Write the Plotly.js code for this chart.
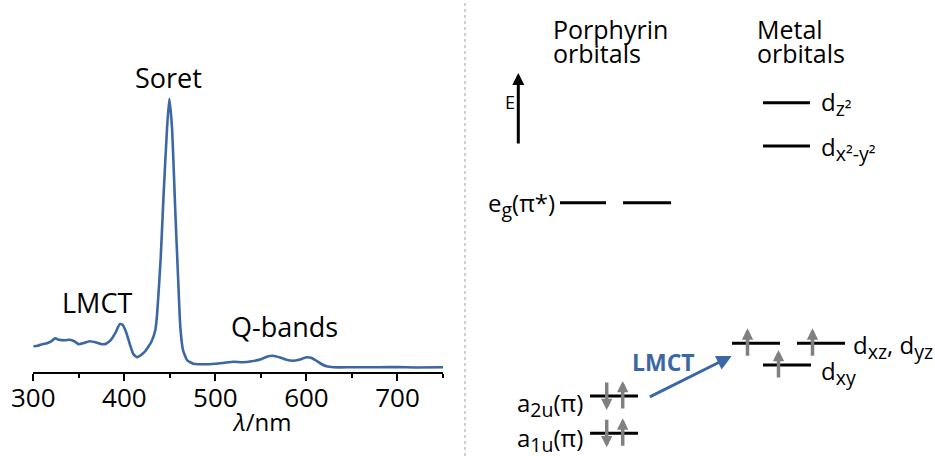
<!DOCTYPE html>
<html>
<head>
<meta charset="utf-8">
<script src="https://cdn.plot.ly/plotly-3.0.1.min.js"></script>
<style>html,body{margin:0;padding:0;background:#fff;}#chart{width:935px;height:456px;}</style>
</head>
<body>
<div id="chart"></div>
<script>
// ---- UV-vis spectrum ----
const wavelength = [300,305,310,315,320,324,328,335,340,345,350,355,362,370,375,380,385,390,395,398,402,406,410,414,418,422,426,430,434,436,440,443,447,449.4,452.3,456,459,461.5,464.5,469,476,485,500,510,520,530,540,550,558,563,570,578,585,592,600,605,610,616,622,630,650,680,700,720,750];
const absorbance = [0.26,0.265,0.28,0.29,0.31,0.34,0.325,0.32,0.325,0.31,0.28,0.29,0.31,0.295,0.28,0.285,0.32,0.39,0.48,0.475,0.40,0.28,0.18,0.15,0.17,0.20,0.25,0.31,0.42,0.58,1.15,1.75,2.45,2.73,2.45,1.60,0.95,0.45,0.22,0.12,0.085,0.08,0.085,0.095,0.105,0.10,0.11,0.13,0.16,0.165,0.15,0.125,0.115,0.125,0.15,0.145,0.12,0.085,0.06,0.05,0.05,0.05,0.052,0.048,0.05];
const xTickVals = [300,400,500,600,700];
const xAxisTitle = '<i>λ</i>/nm';
const bandLabels = ['LMCT','Soret','Q-bands'];
const bandLabelX = [370,448.3,576];

// ---- orbital energy diagram (energy axis runs downward on screen) ----
const orbitalBase = ['d','d','e','','','d','d','a','a'];
const orbitalSub = ['z²','x²-y²','g','','','xz','xy','2u','1u'];
const orbitalSuffix = ['','','(π*)','','',', d<sub>{yz}</sub>','','(π)','(π)'];
const orbitalEnergy = [102.7,146,202.7,202.7,343.3,343.3,365,396,433.3];
const orbitalX0 = [763,763,560,623,732,797,763,590,590];
const orbitalX1 = [810,810,606,671,780,845,811,638,638];
const electronsUp = [0,0,0,0,1,1,1,1,1];
const electronsDown = [0,0,0,0,0,0,0,1,1];
const columnHeaders = [['Porphyrin','orbitals'],['Metal','orbitals']];

const FONT = 'Open Sans, sans-serif';
const BLUE = '#3b67a4';
const GREY = '#808080';
const sub = s => '<sub><span style="font-size:19.5px">' + s + '</span></sub>';

// level segments
const lx = [], ly = [];
for (let i = 0; i < orbitalEnergy.length; i++) {
  lx.push(orbitalX0[i], orbitalX1[i], null);
  ly.push(orbitalEnergy[i], orbitalEnergy[i], null);
}

const traces = [
  {x: wavelength, y: absorbance, type: 'scatter', mode: 'lines',
   line: {color: BLUE, width: 2.6, shape: 'spline', smoothing: 0.5},
   xaxis: 'x', yaxis: 'y', hoverinfo: 'skip'},
  {x: lx, y: ly, type: 'scatter', mode: 'lines',
   line: {color: '#000', width: 3}, xaxis: 'x2', yaxis: 'y2', hoverinfo: 'skip'}
];

const ann = [];
// band labels (x in nm, vertical place in paper units)
const bandLabelPaperY = [0.3807, 0.874, 0.3287];
for (let i = 0; i < bandLabels.length; i++) {
  ann.push({text: bandLabels[i], x: bandLabelX[i], y: bandLabelPaperY[i], xref: 'x', yref: 'paper',
    xanchor: 'center', yanchor: 'top', showarrow: false, font: {family: FONT, size: 27, color: '#000'}});
}
// x-axis title
ann.push({text: xAxisTitle, x: 550.5, y: 0.116, xref: 'x', yref: 'paper', xanchor: 'center', yanchor: 'top',
  showarrow: false, font: {family: FONT, size: 24, color: '#000'}});
// column headers
const headerX = [551, 755];
const headerY = [[9.5, 33.5],[9.5, 33.5]];
for (let c = 0; c < 2; c++) for (let r = 0; r < 2; r++) {
  ann.push({text: columnHeaders[c][r], x: headerX[c], y: headerY[c][r], xref: 'x2', yref: 'y2',
    xanchor: 'left', yanchor: 'top', showarrow: false, font: {family: FONT, size: 25, color: '#000'}});
}
// orbital labels
const labelPos = [
  {x: 819, xa: 'left'}, {x: 819, xa: 'left'}, {x: 557, xa: 'right'}, null, null,
  {x: 851, xa: 'left'}, {x: 819, xa: 'left'}, {x: 585, xa: 'right'}, {x: 585, xa: 'right'}
];
const labelDy = [-19.6, -18.3, -19.2, 0, 0, -17.7, -12.7, -12.5, -14.8];
for (let i = 0; i < orbitalBase.length; i++) {
  if (!orbitalBase[i]) continue;
  const suffix = orbitalSuffix[i].replace(/<sub>\{(.*?)\}<\/sub>/g, (m, s) => sub(s));
  const txt = orbitalBase[i] + sub(orbitalSub[i]) + suffix;
  ann.push({text: txt, x: labelPos[i].x, y: orbitalEnergy[i] + labelDy[i], xref: 'x2', yref: 'y2',
    xanchor: labelPos[i].xa, yanchor: 'top', showarrow: false, font: {family: FONT, size: 24, color: '#000'}});
}
// electrons
for (let i = 0; i < orbitalEnergy.length; i++) {
  const e = orbitalEnergy[i];
  const arrows = [];
  if (electronsDown[i]) { arrows.push({x: orbitalX0[i] + 16.7, up: false}); arrows.push({x: orbitalX0[i] + 32.7, up: true}); }
  else if (electronsUp[i]) { arrows.push({x: orbitalX0[i] + 15.5, up: true}); }
  arrows.forEach(a => {
    ann.push({text: '', xref: 'x2', yref: 'y2', axref: 'x2', ayref: 'y2',
      x: a.x, y: a.up ? e - 15 : e + 14, ax: a.x, ay: a.up ? e + 14 : e - 15,
      showarrow: true, arrowhead: 2, arrowsize: 0.65, arrowwidth: 3.5, arrowcolor: GREY});
  });
}
// energy axis arrow and E
ann.push({text: '', xref: 'x2', yref: 'y2', axref: 'x2', ayref: 'y2', x: 518.3, y: 73, ax: 518.3, ay: 145,
  showarrow: true, arrowhead: 2, arrowsize: 0.8, arrowwidth: 3, arrowcolor: '#000'});
ann.push({text: 'E', x: 503, y: 88, xref: 'x2', yref: 'y2', xanchor: 'left', yanchor: 'top', showarrow: false,
  font: {family: FONT, size: 18, color: '#000'}});
// LMCT transition
ann.push({text: '', xref: 'x2', yref: 'y2', axref: 'x2', ayref: 'y2', x: 731.7, y: 356, ax: 648.3, ay: 397.7,
  showarrow: true, arrowhead: 2, arrowsize: 1, arrowwidth: 3, arrowcolor: BLUE});
ann.push({text: '<b>LMCT</b>', x: 630, y: 343.5, xref: 'x2', yref: 'y2', xanchor: 'left', yanchor: 'top', showarrow: false,
  font: {family: FONT, size: 23, color: BLUE}});

const layout = {
  width: 935, height: 456, margin: {l: 0, r: 0, t: 0, b: 0},
  paper_bgcolor: '#fff', plot_bgcolor: 'rgba(0,0,0,0)', showlegend: false,
  font: {family: FONT, color: '#000'},
  xaxis: {domain: [0.0356, 0.4738], range: [300, 750], anchor: 'y',
    showline: true, linecolor: '#000', linewidth: 2, showgrid: false, zeroline: false,
    tickmode: 'array', tickvals: xTickVals, ticks: 'outside', ticklen: 7, tickwidth: 2, tickcolor: '#000',
    ticklabelstandoff: -5,
    minor: {tickmode: 'linear', tick0: 300, dtick: 50, ticks: 'outside', ticklen: 4, tickwidth: 2, tickcolor: '#000', showgrid: false},
    tickfont: {family: FONT, size: 26, color: '#000'}},
  yaxis: {domain: [0.1836, 0.799], range: [0, 2.8], visible: false, anchor: 'x'},
  xaxis2: {domain: [0.5, 1], range: [467.5, 935], visible: false, anchor: 'y2'},
  yaxis2: {domain: [0, 1], range: [456, 0], visible: false, anchor: 'x2'},
  shapes: [{type: 'line', xref: 'paper', yref: 'paper', x0: 465/935, x1: 465/935, y0: 0, y1: 1,
    line: {color: '#a0a0a0', width: 1, dash: 'dot'}}],
  annotations: ann
};

Plotly.newPlot('chart', traces, layout, {staticPlot: true, displayModeBar: false});
</script>
</body>
</html>
